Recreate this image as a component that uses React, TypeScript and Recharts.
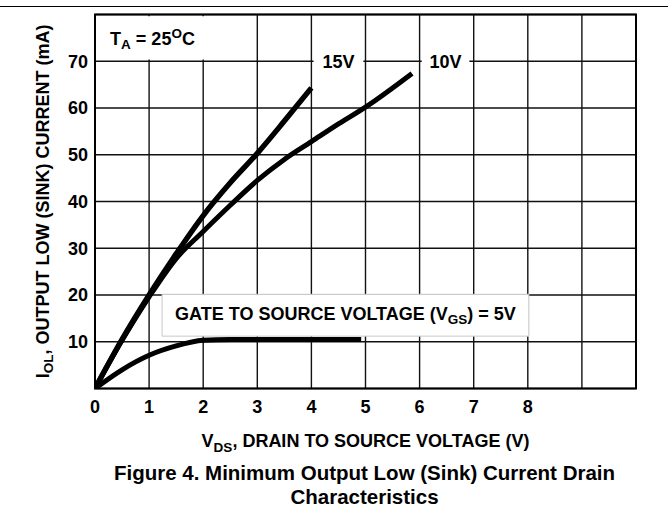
import React from 'react';
import { LineChart, Line, XAxis, YAxis, CartesianGrid, ReferenceArea } from 'recharts';

// ---- data ----
const xTicks = [0, 1, 2, 3, 4, 5, 6, 7, 8, 9, 10];
const yTicks = [0, 10, 20, 30, 40, 50, 60, 70, 80];

const vds15 = [0, 0.5, 1, 1.5, 2, 2.5, 3, 3.5, 4];
const iol15 = [0, 10.5, 20, 28.8, 37, 44, 50.3, 57.2, 64.3];

const vds10 = [0, 0.5, 1, 1.5, 2, 2.5, 3, 3.5, 4, 4.5, 5, 5.86];
const iol10 = [0, 10.3, 19.6, 27.8, 33.6, 39.2, 44.5, 49, 52.8, 56.6, 60.2, 67.4];

const vds5 = [0, 0.5, 1, 1.5, 2, 2.5, 3, 4, 4.92];
const iol5 = [0, 4.0, 7.1, 9.1, 10.3, 10.5, 10.5, 10.5, 10.5];

const toPts = (xs: number[], ys: number[]) => xs.map((x, i) => ({ x, y: ys[i] }));
const series15 = toPts(vds15, iol15);
const series10 = toPts(vds10, iol10);
const series5 = toPts(vds5, iol5);

const FONT = "'Liberation Sans', Arial, Helvetica, sans-serif";
const INK = '#000';

const TaLabel = (props: any) => {
  const vb = props.viewBox;
  return (
    <text x={vb.x + 13.5} y={vb.y + vb.height / 2 + 7} fontFamily={FONT} fontWeight="bold" fontSize={18} fill={INK}>
      T<tspan fontSize={13.5} dy={4}>A</tspan>
      <tspan dy={-4}> = 25</tspan>
      <tspan fontSize={13.5} dy={-7}>O</tspan>
      <tspan dy={7}>C</tspan>
    </text>
  );
};

const centerText = (txt: string) => (props: any) => {
  const vb = props.viewBox;
  return (
    <text x={vb.x + vb.width / 2} y={vb.y + vb.height / 2 + 6.5} textAnchor="middle" fontFamily={FONT} fontWeight="bold" fontSize={18} fill={INK}>
      {txt}
    </text>
  );
};

const GateLabel = (props: any) => {
  const vb = props.viewBox;
  return (
    <text x={vb.x + vb.width / 2} y={vb.y + vb.height / 2 + 5} textAnchor="middle" fontFamily={FONT} fontWeight="bold" fontSize={18} fill={INK}>
      GATE TO SOURCE VOLTAGE (V<tspan fontSize={13.5} dy={4}>GS</tspan>
      <tspan dy={-4}>) = 5V</tspan>
    </text>
  );
};

const XLabel = (props: any) => {
  const vb = props.viewBox;
  const cx = vb.x + vb.width / 2;
  const y0 = vb.y;
  return (
    <g fontFamily={FONT} fontWeight="bold" fill={INK}>
      <text x={cx} y={y0 + 58} textAnchor="middle" fontSize={18}>
        V<tspan fontSize={13.5} dy={5}>DS</tspan>
        <tspan dy={-5}>, DRAIN TO SOURCE VOLTAGE (V)</tspan>
      </text>
      <text x={cx - 1} y={y0 + 91} textAnchor="middle" fontSize={20.5}>
        Figure 4. Minimum Output Low (Sink) Current Drain
      </text>
      <text x={cx - 1} y={y0 + 115.5} textAnchor="middle" fontSize={20.5}>
        Characteristics
      </text>
    </g>
  );
};

const YLabel = (props: any) => {
  const vb = props.viewBox;
  const x = vb.x + vb.width - 46.5;
  const y = vb.y + vb.height / 2;
  return (
    <text x={x} y={y} transform={`rotate(-90, ${x}, ${y})`} textAnchor="middle" fontFamily={FONT} fontWeight="bold" fontSize={18} fill={INK}>
      I<tspan fontSize={13.5} dy={4}>OL</tspan>
      <tspan dy={-4}>, OUTPUT LOW (SINK) CURRENT (mA)</tspan>
    </text>
  );
};

const tickStyle = { fontFamily: FONT, fontWeight: 'bold', fontSize: 18, fill: INK } as any;

export default function App() {
  return (
    <div style={{ position: 'absolute', left: 0, top: 0, width: 669, height: 508, background: '#fff' }}>
      <div style={{ position: 'absolute', left: 0, top: 6, width: 668, borderTop: '1.4px solid #000' }} />
      <LineChart width={669} height={508} margin={{ top: 14.5, right: 33, bottom: 19.5, left: 20 }}>
        <CartesianGrid stroke="#111" strokeWidth={1.4} fill="none" />
        <XAxis
          type="number"
          dataKey="x"
          domain={[0, 10]}
          ticks={xTicks}
          interval={0}
          allowDataOverflow
          height={100}
          axisLine={false}
          tickLine={false}
          tickSize={0}
          tickMargin={12}
          tick={tickStyle}
          tickFormatter={(v: number) => (v > 8 ? '' : String(v))}
          label={{ content: XLabel }}
        />
        <YAxis
          type="number"
          dataKey="y"
          domain={[0, 80]}
          ticks={yTicks}
          interval={0}
          allowDataOverflow
          width={75}
          axisLine={false}
          tickLine={false}
          tickSize={0}
          tickMargin={7}
          tick={tickStyle}
          tickFormatter={(v: number) => (v === 0 || v === 80 ? '' : String(v))}
          label={{ content: YLabel }}
        />
        <ReferenceArea x1={0.03} x2={2.7} y1={70.4} y2={79.6} fill="#fff" fillOpacity={1} stroke="none" label={{ content: TaLabel }} />
        <ReferenceArea x1={4.04} x2={4.96} y1={66} y2={74} fill="#fff" fillOpacity={1} stroke="none" label={{ content: centerText('15V') }} />
        <ReferenceArea x1={6.04} x2={6.92} y1={66} y2={74} fill="#fff" fillOpacity={1} stroke="none" label={{ content: centerText('10V') }} />
        <ReferenceArea x1={1.24} x2={8.02} y1={11.2} y2={20.15} fill="#fff" fillOpacity={1} stroke="#c8c8c8" strokeWidth={1} label={{ content: GateLabel }} />
        <ReferenceArea x1={0} x2={10} y1={0} y2={80} fill="none" stroke="#000" strokeWidth={2} />
        <Line data={series15} dataKey="y" type="monotone" stroke={INK} strokeWidth={5.4} dot={false} isAnimationActive={false} strokeLinecap="butt" />
        <Line data={series10} dataKey="y" type="monotone" stroke={INK} strokeWidth={5} dot={false} isAnimationActive={false} strokeLinecap="butt" />
        <Line data={series5} dataKey="y" type="monotone" stroke={INK} strokeWidth={5} dot={false} isAnimationActive={false} strokeLinecap="butt" />
      </LineChart>
    </div>
  );
}
